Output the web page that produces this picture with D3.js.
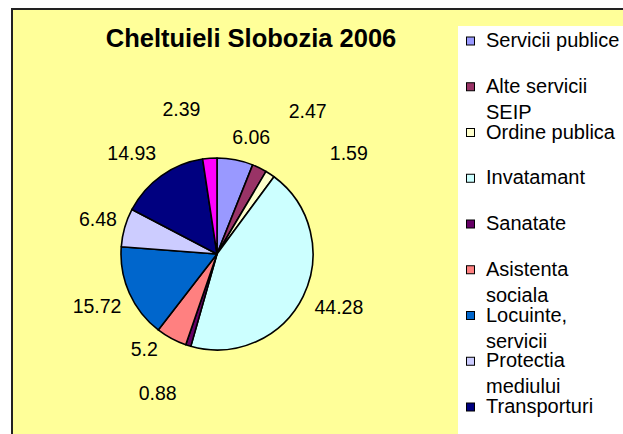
<!DOCTYPE html>
<html>
<head>
<meta charset="utf-8">
<script src="https://cdn.jsdelivr.net/npm/d3@7"></script>
<style>
  body { margin: 0; background: #fff; }
  svg { display: block; font-family: Arial, "Liberation Sans", sans-serif; }
</style>
</head>
<body>
<div id="chart"></div>
<script>
"use strict";

// categories as they appear in the legend ("\n" marks the wrapped line)
const categories = [
  "Servicii publice",
  "Alte servicii\nSEIP",
  "Ordine publica",
  "Invatamant",
  "Sanatate",
  "Asistenta\nsociala",
  "Locuinte,\nservicii",
  "Protectia\nmediului",
  "Transporturi",
  "Alte cheltuieli"
];

const values = [6.06, 2.47, 1.59, 44.28, 0.88, 5.2, 15.72, 6.48, 14.93, 2.39];

const colors = ["#9999FF", "#993366", "#FFFFCC", "#CCFFFF", "#660066",
                "#FF8080", "#0066CC", "#CCCCFF", "#000080", "#FF00FF"];

const title = "Cheltuieli Slobozia 2006";

// small nudges so the labels sit where the spreadsheet put them
const labelNudge = [[10, 9], [34, -28], [61, 6], [7, -3], [-21, 17],
                    [-12, -18], [-3, 0], [4, 0], [-11, 3], [-26, -17]];

const width = 623, height = 434;
const cx = 217, cy = 254, radius = 96;

let svg = d3.select('#chart')
  .append('svg')
  .attr('width', width)
  .attr('height', height);

svg.append('rect')
  .attr('width', width)
  .attr('height', height)
  .attr('fill', '#fff');

// chart area
svg.append('rect')
  .attr('x', 12)
  .attr('y', 9)
  .attr('width', 700)
  .attr('height', 600)
  .attr('fill', '#FFFF99')
  .attr('stroke', '#222')
  .attr('stroke-width', 2);

svg.append('text')
  .attr('x', 251)
  .attr('y', 47)
  .attr('text-anchor', 'middle')
  .style('font-size', '25.5px')
  .style('font-weight', 'bold')
  .text(title);

let color = d3.scaleOrdinal()
  .domain(d3.range(values.length))
  .range(colors);

let pie = d3.pie()
  .sort(null)
  .value(d => d);

let arcs = pie(values);

let arc = d3.arc()
  .innerRadius(0)
  .outerRadius(radius);

let labelArc = d3.arc()
  .innerRadius(radius + 32)
  .outerRadius(radius + 32);

let g = svg.append('g')
  .attr('transform', `translate(${cx},${cy})`);

g.selectAll('path')
  .data(arcs)
  .enter()
  .append('path')
  .attr('d', arc)
  .attr('fill', (d, i) => color(i))
  .attr('stroke', '#000')
  .attr('stroke-width', 1.6)
  .attr('stroke-linejoin', 'round');

g.selectAll('.label')
  .data(arcs)
  .enter()
  .append('text')
  .classed('label', true)
  .attr('x', (d, i) => labelArc.centroid(d)[0] + labelNudge[i][0])
  .attr('y', (d, i) => labelArc.centroid(d)[1] + labelNudge[i][1])
  .attr('dy', '0.36em')
  .attr('text-anchor', 'middle')
  .style('font-size', '19.5px')
  .text(d => d.data);

// legend (the box runs past the bottom edge, so the last entry is not drawn)
let legend = svg.append('g');

legend.append('rect')
  .attr('x', 458)
  .attr('y', 26)
  .attr('width', 300)
  .attr('height', 600)
  .attr('fill', '#fff');

let step = d3.scaleLinear()
  .domain([0, 1])
  .range([47, 92.75]);

let shown = categories
  .map((name, i) => ({name, i}))
  .filter(d => step(d.i) < height);

let item = legend.selectAll('.item')
  .data(shown)
  .enter()
  .append('g')
  .classed('item', true)
  .attr('transform', d => `translate(0,${step(d.i)})`);

item.append('rect')
  .attr('x', 466.5)
  .attr('y', -10)
  .attr('width', 8)
  .attr('height', 8)
  .attr('fill', d => color(d.i))
  .attr('stroke', '#000')
  .attr('stroke-width', 1);

item.append('text')
  .style('font-size', '20px')
  .selectAll('tspan')
  .data(d => d.name.split('\n'))
  .enter()
  .append('tspan')
  .attr('x', 486)
  .attr('y', (d, i) => i * 26)
  .text(d => d);
</script>
</body>
</html>
